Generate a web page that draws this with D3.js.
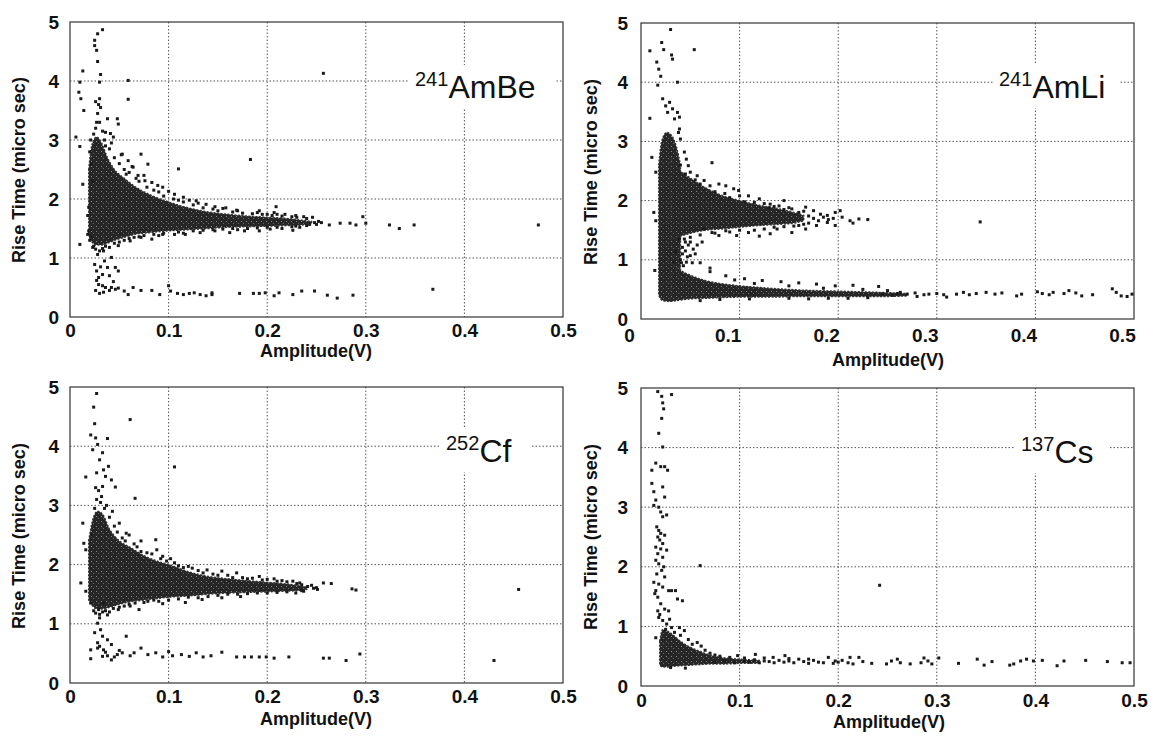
<!DOCTYPE html>
<html>
<head>
<meta charset="utf-8">
<script src="https://cdn.jsdelivr.net/npm/d3@7"></script>
<style>
  body { margin: 0; background: #fff; }
  svg { display: block; }
  text { font-family: "Liberation Sans", Arial, Helvetica, sans-serif; fill: #111; }
</style>
</head>
<body>
<div id="chart"></div>
<script>
// Axis ticks shared by all four panels
const xTicks = [0, 0.1, 0.2, 0.3, 0.4, 0.5];
const yTicks = [0, 1, 2, 3, 4, 5];
const xTitle = "Amplitude(V)";
const yTitle = "Rise Time (micro sec)";

// Source labels (mass number as superscript)
const massNumbers = ["241", "241", "252", "137"];
const sourceNames = ["AmBe", "AmLi", "Cf", "Cs"];

// Dense cores: [amplitude, low rise time, high rise time]
const amBeCore = [
  [0.019, 1.4, 2.5], [0.022, 1.28, 2.9], [0.027, 1.22, 3.05], [0.032, 1.22, 2.95],
  [0.038, 1.25, 2.7], [0.045, 1.3, 2.5], [0.055, 1.35, 2.35], [0.065, 1.4, 2.22],
  [0.08, 1.43, 2.08], [0.1, 1.46, 1.95], [0.12, 1.48, 1.85], [0.14, 1.5, 1.78],
  [0.16, 1.52, 1.74], [0.18, 1.53, 1.71], [0.2, 1.54, 1.69], [0.22, 1.55, 1.67],
  [0.235, 1.56, 1.64], [0.245, 1.58, 1.62]
];
const amLiStrip = [
  [0.018, 0.4, 2.6], [0.021, 0.32, 3.0], [0.026, 0.3, 3.15], [0.031, 0.3, 3.1],
  [0.036, 0.32, 2.9], [0.04, 0.34, 2.6]
];
const amLiUpper = [
  [0.03, 1.35, 2.7], [0.04, 1.4, 2.5], [0.05, 1.45, 2.38], [0.065, 1.5, 2.22],
  [0.08, 1.52, 2.1], [0.1, 1.55, 2.0], [0.12, 1.58, 1.92], [0.14, 1.6, 1.86],
  [0.155, 1.62, 1.8], [0.165, 1.66, 1.75]
];
const amLiLower = [
  [0.03, 0.3, 0.95], [0.04, 0.32, 0.82], [0.05, 0.34, 0.74], [0.065, 0.35, 0.65],
  [0.08, 0.36, 0.6], [0.1, 0.37, 0.56], [0.13, 0.37, 0.52], [0.16, 0.38, 0.49],
  [0.2, 0.38, 0.47], [0.24, 0.38, 0.45], [0.27, 0.39, 0.43]
];
const cfCore = [
  [0.019, 1.4, 2.4], [0.023, 1.3, 2.75], [0.028, 1.25, 2.9], [0.033, 1.25, 2.85],
  [0.04, 1.28, 2.6], [0.05, 1.33, 2.4], [0.06, 1.37, 2.3], [0.075, 1.4, 2.15],
  [0.09, 1.43, 2.05], [0.1, 1.45, 2.0], [0.12, 1.47, 1.88], [0.14, 1.5, 1.8],
  [0.16, 1.52, 1.76], [0.18, 1.53, 1.73], [0.2, 1.54, 1.7], [0.215, 1.55, 1.68],
  [0.23, 1.56, 1.65], [0.24, 1.58, 1.62]
];
const csCore = [
  [0.019, 0.35, 0.75], [0.022, 0.32, 0.95], [0.027, 0.32, 0.92], [0.033, 0.33, 0.85],
  [0.04, 0.34, 0.75], [0.05, 0.35, 0.65], [0.06, 0.36, 0.58], [0.07, 0.37, 0.52],
  [0.085, 0.37, 0.47], [0.1, 0.38, 0.45], [0.12, 0.38, 0.43]
];

// Individual events: [amplitude (V), rise time (micro sec)]
const amBePoints = [
  [0.028,4.80],[0.033,4.87],[0.025,4.69],[0.025,4.6],[0.027,4.52],[0.028,4.33],[0.013,4.17],[0.031,4.11],
  [0.030,3.98],[0.059,4.01],[0.059,3.69],[0.010,3.98],[0.009,3.81],[0.011,3.70],[0.014,3.50],[0.006,3.05],
  [0.010,2.89],[0.013,2.25],[0.010,1.23],[0.257,4.13],[0.183,2.67],[0.110,2.51],[0.072,2.76],[0.079,2.59],
  [0.209,1.87],[0.297,1.70],[0.300,1.59],[0.324,1.56],[0.334,1.50],[0.349,1.56],[0.475,1.56],[0.263,1.56],
  [0.274,1.59],[0.284,1.59],[0.290,1.56],[0.368,0.47],
  [0.038,3.36],[0.048,3.36],[0.049,3.27],[0.041,3.11],[0.036,3.13],[0.044,3.05],[0.053,2.76],[0.059,2.65],
  [0.064,2.54],[0.057,2.42],[0.069,2.40],[0.076,2.31],[0.083,2.28],[0.089,2.23],[0.094,2.20],[0.1,2.13],
  [0.106,2.08],[0.115,2.03],[0.121,1.98],[0.128,1.97],[0.138,1.91],[0.147,1.87],[0.158,1.85],[0.169,1.81],
  [0.192,1.80],[0.2,1.74],[0.207,1.77],[0.218,1.74],[0.229,1.72],[0.237,1.70],[0.246,1.69],[0.248,1.60],
  [0.243,1.57],[0.233,1.52],[0.226,1.47],[0.229,1.54],
  [0.023,1.18],[0.028,1.06],[0.034,1.12],[0.042,1.01],[0.049,1.21],[0.061,1.29],[0.072,1.35],[0.083,1.32],
  [0.094,1.40],[0.106,1.40],[0.117,1.40],[0.132,1.43],[0.147,1.46],[0.162,1.43],[0.177,1.46],[0.192,1.46],
  [0.203,1.49],
  [0.025,0.89],[0.027,0.78],[0.029,0.67],[0.033,0.72],[0.038,0.84],[0.046,0.84],[0.049,0.78],[0.029,0.55],
  [0.033,0.53],[0.030,0.40],[0.036,0.50],[0.042,0.50],[0.046,0.47],[0.049,0.49],[0.055,0.44],[0.059,0.38],
  [0.064,0.50],[0.072,0.45],[0.083,0.45],[0.091,0.38],[0.1,0.53],[0.102,0.44],[0.109,0.40],[0.115,0.38],
  [0.121,0.40],[0.126,0.41],[0.132,0.38],[0.138,0.36],[0.144,0.38],[0.144,0.41],[0.172,0.40],[0.186,0.40],
  [0.192,0.40],[0.198,0.41],[0.207,0.36],[0.212,0.41],[0.226,0.38],[0.235,0.44],[0.248,0.44],[0.261,0.37],
  [0.271,0.32],[0.287,0.37],[0.018,1.72],[0.019,1.86],[0.019,1.46],[0.018,1.40],
  [0.022,2.6],[0.024,3.1],[0.026,3.2],[0.027,3.3],[0.028,3.45],[0.029,3.6],[0.03,3.7],[0.031,3.55],
  [0.026,3.65],[0.03,3.3],[0.033,3.15],[0.035,3.0],[0.036,2.9],[0.04,2.85],[0.042,2.95],[0.045,2.7],
  [0.05,2.6],[0.052,2.75],[0.055,2.5],[0.06,2.45],[0.063,2.55],[0.067,2.35],[0.07,2.3],[0.075,2.4],
  [0.078,2.2],[0.085,2.15],[0.09,2.12],[0.095,2.05],[0.105,2.0],[0.11,1.98],[0.115,1.95],[0.125,1.9],
  [0.13,1.93],[0.135,1.85],[0.145,1.83],[0.15,1.8],[0.155,1.84],[0.165,1.78],[0.17,1.8],[0.175,1.76],
  [0.185,1.75],[0.19,1.77],[0.195,1.74],[0.205,1.72],[0.21,1.74],[0.215,1.71],[0.225,1.7],[0.23,1.69],
  [0.24,1.67],[0.021,1.35],[0.024,1.2],[0.026,1.15],[0.03,1.12],[0.033,1.16],[0.036,1.2],[0.04,1.18],
  [0.045,1.25],[0.05,1.27],[0.055,1.3],[0.06,1.33],[0.065,1.35],[0.07,1.36],[0.075,1.38],[0.085,1.4],
  [0.09,1.38],[0.095,1.42],[0.11,1.44],[0.115,1.42],[0.125,1.46],[0.135,1.47],[0.145,1.48],[0.155,1.49],
  [0.165,1.5],[0.17,1.48],[0.18,1.5],[0.19,1.51],[0.2,1.52],[0.21,1.52],[0.215,1.5],[0.225,1.53],
  [0.24,1.55],[0.25,1.57],[0.252,1.62],[0.255,1.6],[0.02,2.8],[0.021,3.0],[0.023,2.3],[0.02,1.3],
  [0.027,0.62],[0.031,0.85],[0.035,0.95],[0.04,0.7],[0.044,0.6],[0.026,0.45],[0.034,0.42],[0.04,0.45]
];

const amLiPoints = [
  [0.009,4.53],[0.030,4.89],[0.021,4.67],[0.023,4.55],[0.031,4.46],[0.032,4.39],[0.054,4.55],[0.016,4.34],
  [0.018,4.22],[0.020,4.10],[0.017,3.95],[0.037,4.0],[0.009,3.39],[0.011,2.73],[0.015,2.48],[0.013,1.80],
  [0.015,1.66],[0.014,0.82],[0.022,3.72],[0.025,3.6],[0.027,3.49],[0.029,3.66],[0.032,3.55],[0.037,3.49],
  [0.039,3.41],[0.034,3.38],[0.038,3.15],[0.040,3.04],[0.039,3.21],[0.044,2.82],[0.046,2.70],[0.048,2.59],
  [0.050,2.48],[0.072,2.64],[0.057,2.42],[0.064,2.34],[0.079,2.28],[0.086,2.25],[0.094,2.2],[0.099,2.17],
  [0.109,2.08],[0.120,2.03],[0.145,2.0],[0.131,1.94],[0.140,1.91],[0.153,1.86],[0.167,1.89],[0.175,1.83],
  [0.182,1.77],[0.189,1.75],[0.197,1.80],[0.202,1.83],[0.204,1.72],[0.212,1.66],[0.215,1.62],[0.221,1.69],
  [0.230,1.68],[0.197,1.58],[0.189,1.63],[0.178,1.58],[0.167,1.52],[0.160,1.58],[0.153,1.46],[0.138,1.52],
  [0.131,1.44],[0.120,1.40],[0.109,1.46],[0.097,1.41],[0.086,1.49],[0.079,1.41],[0.072,1.46],[0.064,1.52],
  [0.344,1.64],[0.070,0.86],[0.050,1.07],[0.053,1.18],[0.046,0.96],[0.042,1.21],[0.039,1.35],[0.035,1.13],
  [0.033,0.96],[0.045,1.3],[0.04,1.0],[0.043,0.9],[0.048,1.25],[0.055,1.1],[0.06,0.95],[0.042,1.1],
  [0.045,1.15],[0.047,1.05],[0.041,0.95],[0.044,1.35],[0.05,1.3],[0.052,0.95],[0.057,1.25],[0.062,1.3],
  [0.263,0.45],[0.270,0.42],[0.278,0.44],[0.287,0.41],[0.292,0.42],[0.300,0.43],[0.307,0.41],[0.327,0.45],
  [0.333,0.41],[0.340,0.43],[0.350,0.45],[0.359,0.42],[0.366,0.44],[0.381,0.39],[0.386,0.42],[0.402,0.46],
  [0.407,0.43],[0.414,0.41],[0.418,0.45],[0.429,0.43],[0.434,0.48],[0.441,0.44],[0.447,0.39],[0.458,0.41],
  [0.478,0.51],[0.482,0.45],[0.487,0.39],[0.493,0.38],[0.498,0.42],[0.28,0.38],[0.31,0.37],[0.32,0.42],
  [0.197,0.56],[0.215,0.57],[0.241,0.55],[0.178,0.59],[0.160,0.61],[0.142,0.63],[0.123,0.65],[0.105,0.68],
  [0.086,0.73],[0.07,0.8],[0.095,0.66],[0.115,0.6],[0.15,0.56],[0.185,0.52],[0.225,0.5],[0.25,0.48],
  [0.255,0.4],[0.26,0.43],[0.245,0.42],[0.23,0.36],[0.21,0.35],[0.19,0.35],[0.17,0.34],[0.15,0.35],
  [0.11,0.34],[0.08,0.33],[0.06,0.31],
  [0.04,2.6],[0.045,2.45],[0.055,2.35],[0.06,2.28],[0.07,2.25],[0.075,2.15],[0.085,2.12],[0.09,2.05],
  [0.1,2.08],[0.105,1.98],[0.115,1.97],[0.125,1.95],[0.13,1.88],[0.135,1.9],[0.145,1.85],[0.15,1.88],
  [0.16,1.8],[0.165,1.82],[0.17,1.74],[0.175,1.7],[0.18,1.66],[0.185,1.72],[0.19,1.68],[0.195,1.7],
  [0.17,1.62],[0.165,1.6],[0.155,1.57],[0.145,1.56],[0.135,1.55],[0.125,1.52],[0.115,1.5],[0.1,1.5],
  [0.09,1.47],[0.075,1.45],[0.06,1.42],[0.05,1.38]
];

const cfPoints = [
  [0.027,4.89],[0.024,4.66],[0.025,4.38],[0.061,4.45],[0.021,4.19],[0.026,4.14],[0.038,4.13],[0.028,4.03],
  [0.023,3.94],[0.033,3.89],[0.030,3.77],[0.039,3.66],[0.106,3.65],[0.016,3.48],[0.027,3.55],[0.034,3.6],
  [0.036,3.49],[0.042,3.43],[0.046,3.31],[0.066,3.12],[0.033,3.32],[0.013,2.70],[0.014,2.36],[0.016,2.25],
  [0.011,1.69],[0.016,1.55],[0.057,2.53],[0.087,2.42],[0.072,2.22],[0.094,2.14],[0.106,2.03],[0.124,1.94],
  [0.139,1.91],[0.154,1.89],[0.169,1.86],[0.192,1.80],[0.207,1.76],[0.226,1.72],[0.233,1.69],[0.241,1.63],
  [0.247,1.60],[0.251,1.58],[0.257,1.69],[0.265,1.68],[0.286,1.59],[0.290,1.57],[0.455,1.58],[0.237,1.55],
  [0.229,1.52],[0.173,1.46],[0.154,1.44],[0.134,1.41],[0.117,1.36],[0.094,1.34],[0.079,1.38],[0.070,1.24],
  [0.061,1.3],[0.049,1.24],[0.038,1.15],[0.029,1.24],[0.034,1.35],
  [0.028,1.01],[0.031,0.90],[0.033,0.79],[0.028,0.68],[0.038,0.73],[0.042,0.65],[0.057,0.79],[0.021,0.56],
  [0.028,0.59],[0.034,0.56],[0.021,0.41],[0.033,0.45],[0.038,0.46],[0.042,0.39],[0.048,0.48],[0.053,0.51],
  [0.061,0.46],[0.065,0.51],[0.072,0.59],[0.079,0.48],[0.087,0.51],[0.094,0.44],[0.1,0.53],[0.104,0.46],
  [0.113,0.48],[0.121,0.45],[0.128,0.51],[0.135,0.44],[0.143,0.46],[0.154,0.52],[0.169,0.44],[0.177,0.44],
  [0.184,0.44],[0.192,0.44],[0.199,0.44],[0.207,0.42],[0.222,0.44],[0.257,0.42],[0.263,0.42],[0.280,0.38],
  [0.294,0.49],[0.430,0.38],[0.03,0.62],[0.036,0.52],[0.045,0.44],[0.05,0.55],[0.025,0.85],[0.03,1.1],
  [0.022,2.5],[0.025,2.95],[0.027,3.1],[0.029,3.25],[0.031,3.05],[0.026,3.3],[0.032,3.15],[0.035,2.95],
  [0.037,3.0],[0.04,2.8],[0.043,2.9],[0.045,2.65],[0.048,2.55],[0.05,2.7],[0.053,2.45],[0.056,2.4],
  [0.06,2.5],[0.065,2.35],[0.068,2.3],[0.072,2.4],[0.078,2.2],[0.083,2.18],[0.088,2.25],[0.092,2.1],
  [0.098,2.06],[0.102,2.1],[0.11,1.98],[0.115,1.95],[0.12,1.97],[0.13,1.9],[0.135,1.86],[0.145,1.84],
  [0.15,1.82],[0.16,1.82],[0.165,1.78],[0.175,1.78],[0.18,1.76],[0.185,1.77],[0.195,1.74],[0.2,1.75],
  [0.21,1.72],[0.215,1.73],[0.22,1.71],[0.23,1.68],[0.235,1.66],[0.245,1.65],
  [0.021,1.35],[0.024,1.22],[0.026,1.18],[0.03,1.16],[0.033,1.2],[0.036,1.22],[0.04,1.2],[0.044,1.26],
  [0.05,1.28],[0.055,1.3],[0.06,1.33],[0.066,1.35],[0.075,1.36],[0.085,1.4],[0.09,1.38],[0.1,1.4],
  [0.11,1.42],[0.12,1.45],[0.13,1.44],[0.14,1.46],[0.15,1.48],[0.16,1.5],[0.17,1.5],[0.18,1.51],
  [0.19,1.52],[0.2,1.52],[0.21,1.53],[0.22,1.54],[0.235,1.56],[0.25,1.61]
];

const csPoints = [
  [0.017,4.94],[0.021,4.86],[0.031,4.89],[0.022,4.75],[0.023,4.65],[0.021,4.49],[0.018,4.24],[0.022,4.01],
  [0.015,3.74],[0.011,3.62],[0.020,3.68],[0.024,3.68],[0.027,3.62],[0.011,3.40],[0.013,3.26],[0.022,3.34],
  [0.024,3.17],[0.015,3.12],[0.013,3.03],[0.018,3.0],[0.020,2.92],[0.026,2.87],[0.022,2.84],[0.016,2.67],
  [0.018,2.61],[0.020,2.56],[0.024,2.53],[0.017,2.5],[0.022,2.39],[0.015,2.33],[0.020,2.30],[0.026,2.28],
  [0.017,2.22],[0.022,2.16],[0.015,2.11],[0.018,2.05],[0.021,1.94],[0.016,1.88],[0.024,1.83],[0.013,1.74],
  [0.018,1.71],[0.022,1.66],[0.015,1.60],[0.028,1.60],[0.031,1.60],[0.035,1.60],[0.037,1.46],[0.042,1.43],
  [0.017,1.49],[0.020,1.38],[0.024,1.29],[0.028,1.26],[0.017,1.26],[0.018,1.15],[0.022,1.10],[0.026,1.04],
  [0.015,0.81],[0.029,1.12],[0.031,0.98],[0.039,0.98],[0.044,0.93],[0.057,0.73],[0.061,0.67],[0.060,2.02],
  [0.242,1.69],[0.019,2.45],[0.023,2.0],[0.014,1.55],[0.019,1.2],[0.025,0.95],[0.034,0.9],[0.04,0.85],
  [0.048,0.78],[0.052,0.7],[0.065,0.6],[0.07,0.55],[0.075,0.52],[0.08,0.5],[0.09,0.48],
  [0.098,0.51],[0.116,0.53],[0.134,0.48],[0.146,0.51],[0.160,0.45],[0.175,0.43],[0.190,0.48],[0.197,0.42],
  [0.204,0.43],[0.212,0.48],[0.221,0.48],[0.225,0.41],[0.234,0.38],[0.249,0.37],[0.254,0.42],[0.260,0.45],
  [0.263,0.39],[0.273,0.37],[0.284,0.39],[0.287,0.47],[0.291,0.42],[0.295,0.37],[0.302,0.47],[0.322,0.38],
  [0.341,0.45],[0.348,0.35],[0.356,0.41],[0.374,0.35],[0.378,0.37],[0.385,0.42],[0.391,0.45],[0.398,0.42],
  [0.407,0.43],[0.422,0.34],[0.429,0.42],[0.451,0.43],[0.473,0.41],[0.488,0.39],[0.496,0.39],
  [0.105,0.42],[0.11,0.4],[0.115,0.44],[0.12,0.39],[0.125,0.42],[0.13,0.41],[0.135,0.39],[0.14,0.43],
  [0.145,0.4],[0.15,0.42],[0.155,0.39],[0.165,0.41],[0.17,0.38],[0.18,0.4],[0.185,0.39],[0.195,0.38],
  [0.2,0.4],[0.21,0.39],[0.215,0.37],[0.125,0.47],[0.15,0.46],[0.17,0.45],[0.105,0.47],[0.085,0.42],
  [0.095,0.39],[0.075,0.4],[0.045,0.3],[0.03,0.31]
];

// Panel placement on the page
const panels = [
  { pts: amBePoints, cores: [amBeCore], box: { l: 70, r: 563, t: 22, b: 317 }, xPad: 7, xDx: 0, yPad: 11,
    lab: { x: 415, y: 98 }, labW: 134, tx: 316, ty: 357, yx: 25, yy: 170 },
  { pts: amLiPoints, cores: [amLiStrip, amLiUpper, amLiLower], box: { l: 641, r: 1134, t: 23, b: 319 }, xPad: 10, xDx: -12, yPad: 13,
    lab: { x: 999, y: 98 }, labW: 114, tx: 888, ty: 366, yx: 597, yy: 172 },
  { pts: cfPoints, cores: [cfCore], box: { l: 70, r: 563, t: 387, b: 683 }, xPad: 7, xDx: 0, yPad: 11,
    lab: { x: 446, y: 462 }, labW: 80, tx: 316, ty: 725, yx: 25, yy: 536 },
  { pts: csPoints, cores: [csCore], box: { l: 641, r: 1134, t: 388, b: 686 }, xPad: 8, xDx: 0, yPad: 13,
    lab: { x: 1021, y: 463 }, labW: 82, tx: 889, ty: 728, yx: 597, yy: 537 }
];

const svg = d3.select("#chart").append("svg")
  .attr("width", 1151).attr("height", 738);

// speckled fill for the dense cores
const pat = svg.append("defs").append("pattern")
  .attr("id", "dense").attr("width", 5).attr("height", 5)
  .attr("patternUnits", "userSpaceOnUse");
pat.append("rect").attr("width", 5).attr("height", 5).attr("fill", "#262626");
pat.append("rect").attr("x", 1).attr("y", 1).attr("width", 1).attr("height", 1).attr("fill", "#8a8a8a");
pat.append("rect").attr("x", 3).attr("y", 3).attr("width", 1).attr("height", 1).attr("fill", "#6a6a6a");

panels.forEach((p, i) => {
  const b = p.box;
  const x = d3.scaleLinear().domain([0, 0.5]).range([b.l, b.r]);
  const y = d3.scaleLinear().domain([0, 5]).range([b.b, b.t]);
  const g = svg.append("g");

  // dotted grid
  g.selectAll(".gx").data(xTicks.slice(1, -1)).join("line")
    .attr("x1", d => x(d)).attr("x2", d => x(d))
    .attr("y1", b.t).attr("y2", b.b)
    .attr("stroke", "#555").attr("stroke-width", 1).attr("stroke-dasharray", "1.5,2");
  g.selectAll(".gy").data(yTicks.slice(1, -1)).join("line")
    .attr("x1", b.l).attr("x2", b.r)
    .attr("y1", d => y(d)).attr("y2", d => y(d))
    .attr("stroke", "#555").attr("stroke-width", 1).attr("stroke-dasharray", "1.5,2");

  // source label with a white box that breaks the grid
  g.append("rect")
    .attr("x", p.lab.x - 6).attr("y", p.lab.y - 33)
    .attr("width", p.labW + 12).attr("height", 43)
    .attr("fill", "#fff");
  const lab = g.append("text").attr("x", p.lab.x).attr("y", p.lab.y);
  lab.append("tspan").attr("font-size", 20).attr("dy", -12).text(massNumbers[i]);
  lab.append("tspan").attr("font-size", 32).attr("dy", 12).text(sourceNames[i]);

  // frame
  g.append("rect")
    .attr("x", b.l).attr("y", b.t).attr("width", b.r - b.l).attr("height", b.b - b.t)
    .attr("fill", "none").attr("stroke", "#333").attr("stroke-width", 1.2);

  // dense cores
  const area = d3.area()
    .x(d => x(d[0])).y0(d => y(d[1])).y1(d => y(d[2]))
    .curve(d3.curveMonotoneX);
  p.cores.forEach(c => {
    g.append("path").datum(c).attr("d", area)
      .attr("fill", "url(#dense)").attr("stroke", "#333").attr("stroke-width", 1.5)
      .attr("stroke-dasharray", "2,1.5");
  });

  // events
  g.selectAll(".pt").data(p.pts).join("rect")
    .attr("x", d => x(d[0]) - 1.5).attr("y", d => y(d[1]) - 1.5)
    .attr("width", 3).attr("height", 3)
    .attr("fill", "#1a1a1a");

  // axes (labels only)
  const ax = g.append("g").attr("transform", `translate(0,${b.b})`)
    .call(d3.axisBottom(x).tickValues(xTicks).tickSize(0).tickPadding(p.xPad)
      .tickFormat(d => d === 0 ? "0" : d.toFixed(1)));
  ax.select(".domain").remove();
  ax.selectAll("text").attr("font-size", 19).attr("font-weight", "bold")
    .attr("font-family", "Liberation Sans, Arial, sans-serif").attr("fill", "#111")
    .attr("dx", p.xDx);

  const ay = g.append("g").attr("transform", `translate(${b.l},0)`)
    .call(d3.axisLeft(y).tickValues(yTicks).tickSize(0).tickPadding(p.yPad).tickFormat(d3.format("d")));
  ay.select(".domain").remove();
  ay.selectAll("text").attr("font-size", 19).attr("font-weight", "bold")
    .attr("font-family", "Liberation Sans, Arial, sans-serif").attr("fill", "#111");

  // axis titles
  g.append("text").attr("x", p.tx).attr("y", p.ty)
    .attr("text-anchor", "middle").attr("font-size", 18).attr("font-weight", "bold")
    .text(xTitle);
  g.append("text")
    .attr("transform", `translate(${p.yx},${p.yy}) rotate(-90)`)
    .attr("text-anchor", "middle").attr("font-size", 18).attr("font-weight", "bold")
    .text(yTitle);
});
</script>
</body>
</html>
